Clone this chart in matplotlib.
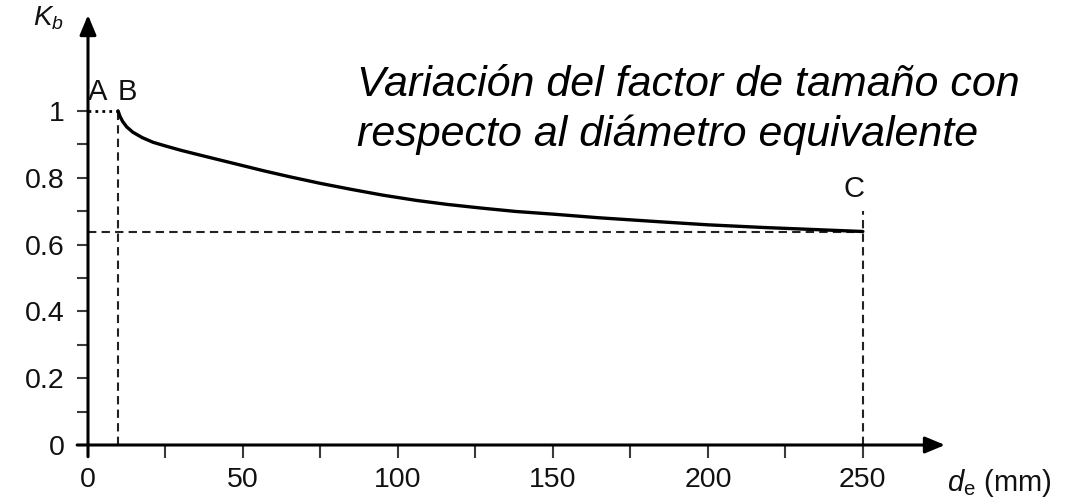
import matplotlib
matplotlib.use("Agg")
import matplotlib.pyplot as plt
from matplotlib.ticker import FixedLocator

plt.rcParams["font.family"] = ["Liberation Sans", "DejaVu Sans"]
plt.rcParams["mathtext.fontset"] = "custom"
plt.rcParams["mathtext.rm"] = "Liberation Sans"
plt.rcParams["mathtext.it"] = "Liberation Sans:italic"

# Size factor K_b versus equivalent diameter d_e (mm)
diametro = [9.7, 10.3, 11.2, 12.5, 14.5, 17.5, 21, 25, 30, 36, 43, 50, 57, 65, 75,
            85, 95, 106, 116, 127, 138, 150, 165, 183, 200, 218, 234, 250]
kb = [1.0, 0.984, 0.968, 0.952, 0.936, 0.920, 0.906, 0.895, 0.882, 0.868, 0.852,
      0.836, 0.820, 0.803, 0.783, 0.765, 0.748, 0.732, 0.720, 0.709, 0.699, 0.691,
      0.680, 0.669, 0.659, 0.651, 0.645, 0.639]

punto_a = (0.0, 1.0)
punto_b = (diametro[0], kb[0])
punto_c = (diametro[-1], kb[-1])

xticks_major = [0, 50, 100, 150, 200, 250]
xticks_minor = [25, 75, 125, 175, 225]
yticks_major = [0, 0.2, 0.4, 0.6, 0.8, 1]
yticks_minor = [0.1, 0.3, 0.5, 0.7, 0.9]
ytick_labels = ["0", "0.2", "0.4", "0.6", "0.8", "1"]

titulo_1 = "Variación del factor de tamaño con"
titulo_2 = "respecto al diámetro equivalente"

W, H = 1081, 498
fig = plt.figure(figsize=(W / 100, H / 100), dpi=100)
ax = fig.add_axes([88 / W, 53 / H, (945 - 88) / W, (445 - 15) / H])
ax.set_xlim(0, 276.5)
ax.set_ylim(0, 1.287)
for s in ax.spines.values():
    s.set_visible(False)

axis_col = "#3a3a3a"
# axes with arrow heads
ax.annotate("", xy=(276.5, 0), xytext=(-3.5, 0),
            arrowprops=dict(arrowstyle="-|>,head_length=1.2,head_width=0.5",
                            color="black", lw=2.2, shrinkA=0, shrinkB=0),
            annotation_clip=False)
ax.annotate("", xy=(0, 1.287), xytext=(0, -0.035),
            arrowprops=dict(arrowstyle="-|>,head_length=1.2,head_width=0.5",
                            color="black", lw=2.2, shrinkA=0, shrinkB=0),
            annotation_clip=False)

ax.set_xticks(xticks_major)
ax.set_xticklabels([str(v) for v in xticks_major])
ax.xaxis.set_minor_locator(FixedLocator(xticks_minor))
ax.set_yticks(yticks_major)
ax.set_yticklabels(ytick_labels)
ax.yaxis.set_minor_locator(FixedLocator(yticks_minor))
ax.tick_params(axis="x", which="both", direction="out", length=9.5, width=1.5,
               color=axis_col, labelsize=20.5, pad=6, labelcolor="#111111")
ax.tick_params(axis="y", which="both", direction="out", length=8, width=1.5,
               color=axis_col, labelsize=20.5, pad=9, labelcolor="#111111")

# reference lines
ax.plot([punto_a[0], punto_b[0]], [punto_a[1], punto_b[1]], color="black",
        lw=2.0, ls=(0, (1, 1.5)), clip_on=False)
ax.plot([punto_b[0], punto_b[0]], [0, punto_b[1]], color="#222222", lw=1.5,
        ls=(0, (4, 2.5)))
ax.plot([0, punto_c[0]], [punto_c[1], punto_c[1]], color="#222222", lw=1.5,
        ls=(0, (4, 2.5)))
ax.plot([punto_c[0], punto_c[0]], [0, 0.70], color="#222222", lw=1.5,
        ls=(0, (4, 2.5)))

# curve
ax.plot(diametro, kb, color="black", lw=2.4, solid_capstyle="round",
        solid_joinstyle="round")

# point labels
ax.text(0, 1.033, "A", fontsize=21, ha="left", va="baseline", color="#111111")
ax.text(punto_b[0] - 0.3, 1.033, "B", fontsize=21, ha="left", va="baseline",
        color="#111111")
ax.text(punto_c[0] + 0.5, 0.743, "C", fontsize=21, ha="right", va="baseline",
        color="#111111")

# axis names
fig.text(33 / W, 1 - 18 / H, r"$K_b$", fontsize=20, ha="left", va="center",
         color="#111111")
fig.text(947 / W, 1 - 483 / H, r"$d_\mathrm{e}$ (mm)", fontsize=21, ha="left",
         va="center", color="#111111")

fig.text(357 / W, 1 - 96 / H, titulo_1, fontsize=31, style="italic", ha="left",
         va="baseline", color="black")
fig.text(357 / W, 1 - 146 / H, titulo_2, fontsize=31, style="italic", ha="left",
         va="baseline", color="black")

fig.savefig("out.png", dpi=100)
